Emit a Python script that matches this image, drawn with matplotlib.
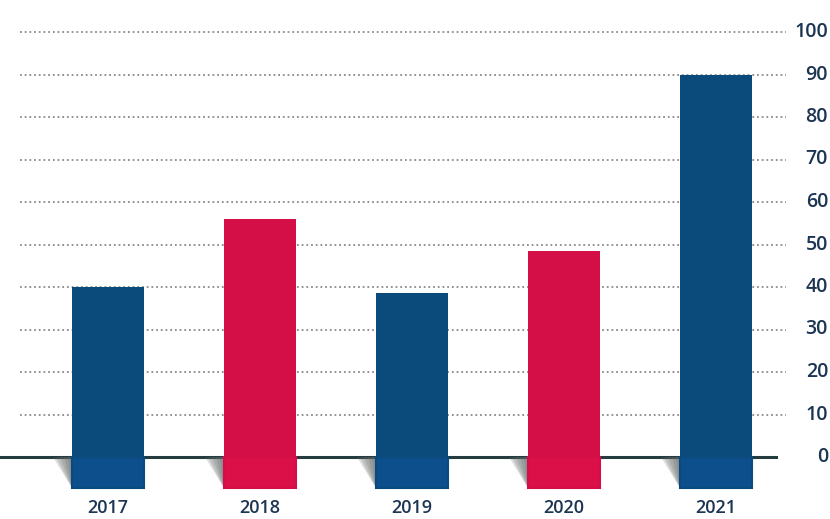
import matplotlib
matplotlib.use("Agg")
import matplotlib.pyplot as plt
from matplotlib.patches import Polygon
import numpy as np

years = ["2017", "2018", "2019", "2020", "2021"]
values = [40, 56, 38.5, 48.5, 90]
colors = ["#0b4b7c", "#d40f47", "#0b4b7c", "#d40f47", "#0b4b7c"]
base_colors = ["#0c4f8c", "#dc1049", "#0c4f8c", "#dc1049", "#0c4f8c"]
y_ticks = [0, 10, 20, 30, 40, 50, 60, 70, 80, 90, 100]

W, H = 830, 519
fig = plt.figure(figsize=(W / 100, H / 100), dpi=100)
ax = fig.add_axes([0, 0, 1, 1])

# axis scale: 0 sits at 457 px from top, 100 at 32 px
px_per_unit = (457 - 32) / 100.0
y_bottom = -(H - 457) / px_per_unit
y_top = 100 + 32 / px_per_unit
x0_px, step_px = 108, 152
x_left = -x0_px / step_px
x_right = (W - x0_px) / step_px
ax.set_xlim(x_left, x_right)
ax.set_ylim(y_bottom, y_top)
ax.axis("off")

def px_x(p):
    return (p - x0_px) / step_px

x = np.arange(len(years))
width = 0.47
depth = -7.3

# dotted gridlines
for t in y_ticks[1:]:
    ax.plot([px_x(20), px_x(786)], [t, t], color="#8a8a8a", lw=1.3,
            linestyle=(0, (1, 1.6)), zorder=1)

# baseline
ax.plot([x_left, px_x(776)], [0, 0], color="#243b3f", lw=2.2, zorder=2)

# soft shadows beside the lower end of each bar
for xi in x:
    l = xi - width / 2
    for k in range(5):
        off = 0.13 * (1 - k / 5)
        tri = Polygon([[l - off, 0], [l, 0], [l, depth]], closed=True,
                      color="#5f6464", alpha=0.22, zorder=2, lw=0)
        ax.add_patch(tri)

# bars and their lower base
ax.bar(x, [0 - depth] * len(x), bottom=depth, width=width, color=base_colors,
       zorder=3, edgecolor=colors, linewidth=1.5)
ax.bar(x, values, width=width, color=colors, zorder=4, linewidth=0)

label_color = "#1c3553"
for t in y_ticks:
    ax.text(px_x(828), t, str(t), ha="right", va="center", fontsize=14,
            color=label_color, family="Open Sans", fontweight="semibold",
            zorder=5)
for xi, yr in zip(x, years):
    ax.text(xi, y_bottom + (H - 508) / px_per_unit, yr, ha="center",
            va="center", fontsize=13, color=label_color, family="Open Sans",
            fontweight="semibold", zorder=5)

fig.savefig("out.png", dpi=100)
